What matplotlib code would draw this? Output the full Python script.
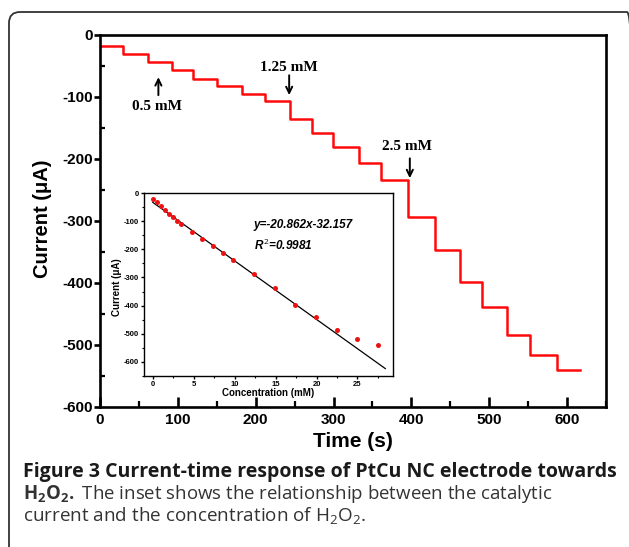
import matplotlib
matplotlib.use("Agg")
import matplotlib.pyplot as plt
from matplotlib.patches import FancyBboxPatch
from matplotlib.ticker import MultipleLocator, FixedLocator
import numpy as np

CAP_FONT = 'Open Sans'
plt.rcParams['axes.unicode_minus'] = False
plt.rcParams['mathtext.fontset'] = 'custom'
plt.rcParams['mathtext.rm'] = CAP_FONT
plt.rcParams['mathtext.bf'] = CAP_FONT + ':bold'
plt.rcParams['mathtext.it'] = 'Liberation Sans:italic:bold'

# ---- main amperometric trace (step levels) ----
step_times = [0, 30, 62, 92, 120, 150, 182, 212, 244, 272, 299, 333, 361, 396,
              430, 463, 491, 523, 553, 587]
step_currents = [-18, -30, -43, -57, -71, -82, -95, -107, -135, -158, -181, -206,
                 -234, -294, -347, -398, -439, -484, -516, -541]
t_end = 617

# ---- inset calibration data ----
conc = [0, 0.5, 1, 1.5, 2, 2.5, 3, 3.5, 4.75, 6.05, 7.3, 8.55, 9.8, 12.35,
        14.9, 17.4, 19.95, 22.45, 25, 27.5]
inset_current = [-21, -32, -44, -59, -74, -86, -97, -109, -137, -164, -188, -214,
                 -238, -288, -339, -397, -440, -486, -519, -541]
fit_slope = -20.862
fit_intercept = -32.157
fit_range = [0, 28.4]

# ---- annotations ----
ann_labels = ["0.5 mM", "1.25 mM", "2.5 mM"]
ann_text_xy = [(73, -115), (243, -53), (394, -180)]
ann_arrow_from = [(75, -97), (243, -65), (398, -199)]
ann_arrow_to = [(75, -68), (243, -97), (398, -231)]

main_yticks = [0, -100, -200, -300, -400, -500, -600]
main_xticks = [0, 100, 200, 300, 400, 500, 600]
inset_yticks = [0, -100, -200, -300, -400, -500, -600]
inset_xticks = [0, 5, 10, 15, 20, 25]

W, H = 629, 547
fig = plt.figure(figsize=(W / 100, H / 100), dpi=100)

# outer rounded frame
frame = FancyBboxPatch((9, -30), 629, H - 12 + 30,
                       boxstyle="round,pad=0,rounding_size=11",
                       transform=None, fill=False, lw=1.3, ec="#333333")
fig.patches.append(frame)

def fx(px):
    return px / W

def fy(py):
    return 1 - py / H

# main axes
L, R, T, B = 100, 606, 35, 407
ax = fig.add_axes([fx(L), fy(B), (R - L) / W, (B - T) / H])
ax.plot(step_times + [t_end], step_currents + [step_currents[-1]],
        drawstyle='steps-post', color='#ff0a0a', lw=1.8)
ax.set_xlim(0, 650)
ax.set_ylim(-600, 0)
ax.xaxis.set_major_locator(FixedLocator(main_xticks))
ax.xaxis.set_minor_locator(MultipleLocator(50))
ax.yaxis.set_major_locator(FixedLocator(main_yticks))
ax.yaxis.set_minor_locator(MultipleLocator(50))
for s in ax.spines.values():
    s.set_linewidth(1.9)
ax.tick_params(axis='x', which='major', direction='in', length=7, width=1.9,
               pad=4, labelsize=11)
ax.tick_params(axis='x', which='minor', direction='in', length=4, width=1.6)
ax.tick_params(axis='y', which='major', direction='out', length=4, width=1.9,
               pad=1, labelsize=11)
ax.tick_params(axis='y', which='minor', direction='in', length=3.5, width=1.6)
for lab in ax.get_xticklabels() + ax.get_yticklabels():
    lab.set_fontfamily('Liberation Sans')
    lab.set_fontweight('bold')

ax.set_xlabel("Time (s)", fontsize=15, fontweight='bold', family='Liberation Sans')
ax.xaxis.set_label_coords(0.5, -0.094)
ax.xaxis.label.set_va('center')
ax.set_ylabel("Current (\u03bcA)", fontsize=14.5, fontweight='bold',
              family='Liberation Sans')
ax.yaxis.set_label_coords(-0.113, 0.505)
ax.yaxis.label.set_va('center')

for lab, txy, a0, a1 in zip(ann_labels, ann_text_xy, ann_arrow_from, ann_arrow_to):
    ax.text(txy[0], txy[1], lab, ha='center', va='center', fontsize=11,
            fontweight='bold', family='Liberation Serif')
    ax.annotate("", xy=a1, xytext=a0,
                arrowprops=dict(arrowstyle='->,head_length=0.45,head_width=0.22',
                                lw=1.4, color='black', shrinkA=0, shrinkB=0))

# inset axes
iL, iR, iT, iB = 144.3, 392.7, 193.3, 376
ins = fig.add_axes([fx(iL), fy(iB), (iR - iL) / W, (iB - iT) / H])
ins.plot(fit_range, [fit_slope * x + fit_intercept for x in fit_range],
         color='black', lw=0.9, zorder=2)
ins.plot(conc, inset_current, 'o', color='#ee1111', ms=3.6, mec='none', zorder=3)
ins.set_xlim(-1.03, 29.3)
ins.set_ylim(-651, 0)
ins.xaxis.set_major_locator(FixedLocator(inset_xticks))
ins.xaxis.set_minor_locator(MultipleLocator(2.5))
ins.yaxis.set_major_locator(FixedLocator(inset_yticks))
ins.yaxis.set_minor_locator(MultipleLocator(50))
for s in ins.spines.values():
    s.set_linewidth(1.0)
ins.tick_params(which='major', direction='out', length=2.5, width=1.0,
                pad=1.2, labelsize=5.5)
ins.tick_params(which='minor', direction='out', length=1.5, width=0.8)
for lab in ins.get_xticklabels() + ins.get_yticklabels():
    lab.set_fontfamily('Liberation Sans')
    lab.set_fontweight('bold')
ins.set_xlabel("Concentration (mM)", fontsize=7, fontweight='bold',
               family='Liberation Sans')
ins.xaxis.set_label_coords(0.5, -0.092)
ins.xaxis.label.set_va('center')
ins.set_ylabel("Current (\u03bcA)", fontsize=7, fontweight='bold',
               family='Liberation Sans')
ins.yaxis.set_label_coords(-0.108, 0.487)
ins.yaxis.label.set_va('center')
ins.text(0.4376, 0.826, "y=%.3fx%.3f" % (fit_slope, fit_intercept),
         transform=ins.transAxes, fontsize=8.5, fontweight='bold',
         style='italic', family='Liberation Sans', va='center', ha='left')
ins.text(0.44, 0.717, r"$\mathit{R}^{\mathit{2}}$=0.9981",
         transform=ins.transAxes, fontsize=8.5, fontweight='bold',
         style='italic', family='Liberation Sans', va='center', ha='left')

# caption
fig.text(fx(23), fy(477), "Figure 3 Current-time response of PtCu NC electrode towards",
         fontsize=14, fontweight='bold', family=CAP_FONT, va='baseline',
         color='#1a1a1a')
fig.text(fx(23), fy(499), r"$\mathbf{H_2O_2.}$ The inset shows the relationship between the catalytic",
         fontsize=13.4, family=CAP_FONT, va='baseline', color='#333333')
fig.text(fx(23), fy(521), r"current and the concentration of H$_2$O$_2$.",
         fontsize=13.6, family=CAP_FONT, va='baseline', color='#333333')

fig.savefig("out.png", dpi=100)
